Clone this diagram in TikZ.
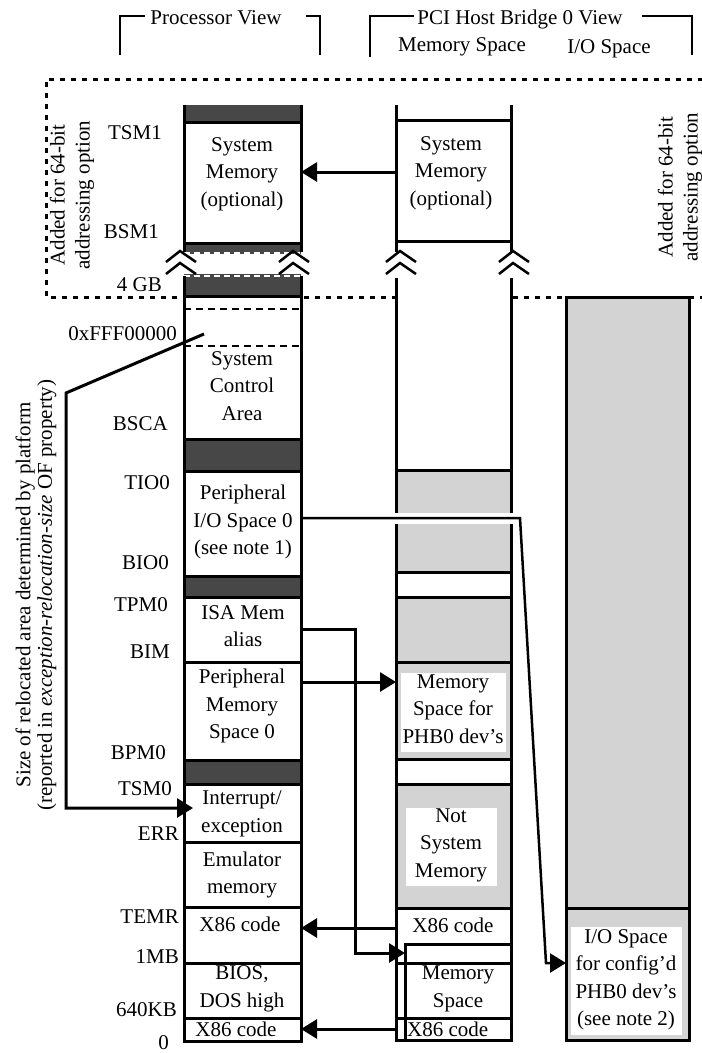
\documentclass[tikz,border=0pt]{standalone}
\usepackage{fontspec}
\setmainfont{Liberation Serif}
\usetikzlibrary{arrows.meta,fit}
\definecolor{bandgray}{RGB}{71,71,71}
\definecolor{shadegray}{RGB}{211,211,211}
\begin{document}
\begin{tikzpicture}[x=1pt,y=-1pt,
  font=\fontsize{21}{27.5}\selectfont,
  cell/.style={draw=black,line width=3pt,inner sep=0pt,outer sep=0pt},
  band/.style={cell,fill=bandgray},
  shaded/.style={cell,fill=shadegray},
  plain/.style={cell,fill=white},
  blank/.style={inner sep=0pt,outer sep=0pt,fill=white},
  txt/.style={align=center,inner sep=0pt},
  addr/.style={anchor=east,inner sep=0pt},
  title/.style={anchor=base,inner sep=0pt},
  sidetxt/.style={rotate=90,align=center,inner sep=0pt},
  arr/.style={line width=3pt,-{Triangle[length=16pt,width=19pt]}},
  bracket/.style={line width=2pt},
  rim/.style={line width=3pt},
  brk/.pic={\draw[line width=2.5pt] (-15,-2) -- (-1,-13) -- (15,-2) (-15,10) -- (-1,-1) -- (15,10);}
]
\useasboundingbox (0,0) rectangle (702,1053);

% ---- column headings ----
\node[title] (tproc) at (216,24) {Processor View};
\draw[bracket] (120,55) -- (120,16) -- (145,16);
\draw[bracket] (306,16) -- (320,16) -- (320,55);
\node[title] (tpci) at (520,24) {PCI Host Bridge 0 View};
\draw[bracket] (370,57) -- (370,16) -- (414,16);
\draw[bracket] (642,16) -- (692,16) -- (692,55);
\node[title] (tmem) at (462,51) {Memory Space};
\node[title] (tios) at (609,53) {I/O Space};

% ---- region added for the 64-bit option ----
\draw[line width=3pt,dash pattern=on 5pt off 6pt] (703,79) -- (46,79) -- (46,297) -- (703,297);
\node[sidetxt,font=\fontsize{21}{25}\selectfont] (add64l) at (72,195) {Added for 64-bit\\addressing option};
\node[sidetxt,font=\fontsize{21}{25}\selectfont] (add64r) at (680,187) {Added for 64-bit\\addressing option};
\node[sidetxt,font=\fontsize{21}{21.5}\selectfont] (reloc) at (36,595)
  {Size of relocated area determined by platform\\(reported in \textit{exception-relocation-size} OF property)};

% ---- processor view ----
\node[blank,fill=bandgray,fit={(184,105)(301,122)}] (ptop) {};
\node[blank,fill=bandgray,fit={(184,243)(301,296)}] (pbrk) {};
\fill[white] (184,254) rectangle (301,274);
\draw[white,line width=2pt,dash pattern=on 6pt off 4pt] (184,252.5) -- (301,252.5) (184,275.5) -- (301,275.5);
\node[plain,fit={(184,122)(301,243)}] (psm1) {};
\node[plain,fit={(184,296)(301,439)}] (psca) {};
\node[band,fit={(184,439)(301,471)}] (pb2) {};
\node[plain,fit={(184,471)(301,576)}] (pio) {};
\node[band,fit={(184,576)(301,597)}] (pb3) {};
\node[plain,fit={(184,597)(301,662)}] (pisa) {};
\node[plain,fit={(184,662)(301,760)}] (ppm) {};
\node[band,fit={(184,760)(301,784)}] (pb4) {};
\node[plain,fit={(184,784)(301,842)}] (pint) {};
\node[plain,fit={(184,842)(301,907)}] (pemu) {};
\node[plain,fit={(184,907)(301,963)}] (px86a) {};
\node[plain,fit={(184,963)(301,1018)}] (pbios) {};
\node[plain,fit={(184,1018)(301,1041)}] (px86b) {};
\draw[rim] (184,105) -- (184,252) (301,105) -- (301,252) (184,276) -- (184,296) (301,276) -- (301,296);
\draw[line width=2pt,dash pattern=on 7pt off 5pt] (184,309) -- (301,309) (184,346) -- (301,346);

\node[txt] (psm1t) at (242,174) {System\\Memory\\(optional)};
\node[txt] (pscat) at (242,386) {System\\Control\\Area};
\node[txt] (piot) at (243,522) {Peripheral\\I/O Space 0\\(see note 1)};
\node[txt] (pisat) at (243,626) {ISA Mem\\alias};
\node[txt] (ppmt) at (242,706) {Peripheral\\Memory\\Space 0};
\node[txt] (pintt) at (242,814) {Interrupt/\\exception};
\node[txt] (pemut) at (242,875) {Emulator\\memory};
\node[txt] (px86at) at (240,924) {X86 code};
\node[txt] (pbiost) at (242,989) {BIOS,\\DOS high};
\node[txt] (px86bt) at (236,1029) {X86 code};

% ---- address labels ----
\node[addr] (aTSM1) at (162,133) {TSM1};
\node[addr] (aBSM1) at (159,232) {BSM1};
\node[addr] (a4GB) at (162,285) {4 GB};
\node[addr] (aFFF) at (177,334) {0xFFF00000};
\node[addr] (aBSCA) at (168,424) {BSCA};
\node[addr] (aTIO0) at (170,483) {TIO0};
\node[addr] (aBIO0) at (169,563) {BIO0};
\node[addr] (aTPM0) at (168,605) {TPM0};
\node[addr] (aBIM) at (170,652) {BIM};
\node[addr] (aBPM0) at (166,753) {BPM0};
\node[addr] (aTSM0) at (172,789) {TSM0};
\node[addr] (aERR) at (179,834) {ERR};
\node[addr] (aTEMR) at (179,917) {TEMR};
\node[addr] (a1MB) at (179,957) {1MB};
\node[addr] (a640) at (177,1010) {640KB};
\node[addr] (a0) at (169,1043) {0};

% ---- PCI host bridge memory space ----
\node[blank,fit={(396,278)(511,470)}] (hblank) {};
\node[plain,fit={(396,120)(511,241)}] (hsm1) {};
\node[shaded,fit={(396,470)(511,572)}] (hg1) {};
\node[plain,fit={(396,572)(511,597)}] (hw1) {};
\node[shaded,fit={(396,597)(511,662)}] (hg2) {};
\node[shaded,fit={(396,662)(511,759)}] (hpm) {};
\node[plain,fit={(396,759)(511,784)}] (hw2) {};
\node[shaded,fit={(396,784)(511,908)}] (hnsm) {};
\node[plain,fit={(396,908)(511,963)}] (hx86a) {};
\node[plain,fit={(405,944)(511,963)}] (hgap) {};
\node[plain,fit={(396,963)(511,1018)}] (hms) {};
\node[plain,fit={(396,1018)(511,1040)}] (hx86b) {};
\draw[rim] (405,963) -- (405,1040);
\draw[rim] (396,105) -- (396,252) (511,105) -- (511,252) (396,278) -- (396,470) (511,278) -- (511,470);
\node[blank,fit={(401,673)(506,752)}] (hpmbox) {};
\node[blank,fit={(406,808)(497,886)}] (hnsmbox) {};

\node[txt] (hsm1t) at (451,173) {System\\Memory\\(optional)};
\node[txt] (hpmt) at (453,709) {Memory\\Space for\\PHB0 dev’s};
\node[txt] (hnsmt) at (451,845) {Not\\System\\Memory};
\node[txt] (hx86at) at (453,925) {X86 code};
\node[txt] (hmst) at (458,989) {Memory\\Space};
\node[txt,anchor=west] (hx86bt) at (407,1029) {X86 code};

% ---- PCI host bridge I/O space ----
\node[shaded,fit={(566,297)(689,908)}] (iog) {};
\node[shaded,fit={(566,908)(689,1040)}] (ioc) {};
\node[blank,fit={(571,927)(682,1035)}] (iobox) {};
\node[txt] (ioct) at (626,980) {I/O Space\\for config’d\\PHB0 dev’s\\(see note 2)};

% ---- breaks in the address range ----
\pic at (181,264) {brk};
\pic at (294,264) {brk};
\pic at (401,264) {brk};
\pic at (514,264) {brk};

% ---- mappings ----
\draw[arr] (hsm1.west |- 0,172) -- (psm1.east |- 0,172);
\draw[white,line width=11pt] (390,518) -- (517,518);
\coordinate (ioturn) at (520,518);
\coordinate (iodrop) at (546,963);
\draw[arr,line width=2.5pt] (pio.east |- 0,518) -- (ioturn) -- (iodrop) -- (ioc.west |- iodrop);
\coordinate (isaturn) at (355,629);
\coordinate (isadrop) at (355,953);
\draw[arr] (pisa.east |- isaturn) -- (isaturn) -- (isadrop) -- (hgap.west |- isadrop);
\draw[arr] (ppm.east |- 0,682) -- (hpm.west |- 0,682);
\draw[arr] (hx86a.west |- 0,928) -- (px86a.east |- 0,928);
\draw[arr] (hx86b.west) -- (px86b.east |- hx86b.west);
\coordinate (relmark) at (204,334);
\coordinate (relbend) at (66,393);
\coordinate (reldown) at (66,808);
\draw[arr] (relmark) -- (relbend) -- (reldown) -- ([xshift=9pt]pint.west |- reldown);
\end{tikzpicture}
\end{document}
